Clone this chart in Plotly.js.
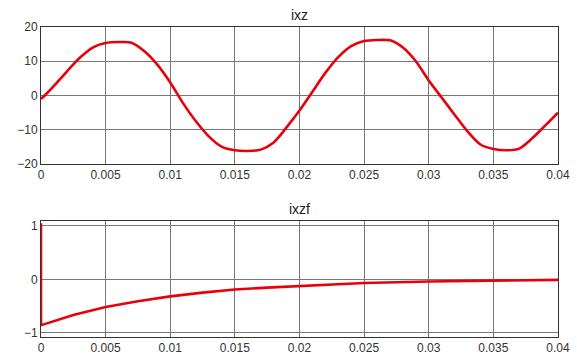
<!DOCTYPE html>
<html>
<head>
<meta charset="utf-8">
<script src="https://cdn.plot.ly/plotly-3.0.1.min.js"></script>
<style>html,body{margin:0;padding:0;background:#fff;}#chart{width:577px;height:361px;}</style>
</head>
<body>
<div id="chart"></div>
<script>
// ixz (top panel)
const tTop = [0, 0.0005, 0.001, 0.002, 0.003, 0.004, 0.005, 0.006, 0.007, 0.008, 0.009, 0.010,
  0.011, 0.012, 0.013, 0.014, 0.015, 0.016, 0.017, 0.018, 0.019, 0.020,
  0.021, 0.022, 0.023, 0.024, 0.025, 0.026, 0.027, 0.028, 0.029, 0.030,
  0.031, 0.032, 0.033, 0.034, 0.035, 0.036, 0.037, 0.038, 0.039, 0.040];
const ixz = [-1, 0.8, 2.8, 7, 11, 14, 15.3, 15.6, 15.4, 12.9, 9, 3.8,
  -2.3, -7.6, -12, -15, -16, -16.2, -15.8, -13.7, -9.3, -4.4,
  1.1, 6.6, 11.2, 14.4, 15.9, 16.2, 16.1, 14, 10, 4.4,
  -0.6, -5.6, -10.5, -14.3, -15.6, -16, -15.5, -12.5, -8.8, -5];

// ixzf (bottom panel)
const tBot = [0, 0, 0.0025, 0.005, 0.0075, 0.01, 0.0125, 0.015, 0.0175, 0.02, 0.025, 0.03, 0.035, 0.04];
const ixzf = [1.05, -0.86, -0.67, -0.52, -0.41, -0.32, -0.25, -0.19, -0.155, -0.125, -0.07, -0.04, -0.025, -0.01];

const xTicks = [0, 0.005, 0.01, 0.015, 0.02, 0.025, 0.03, 0.035, 0.04];
const xTickText = ["0", "0.005", "0.01", "0.015", "0.02", "0.025", "0.03", "0.035", "0.04"];
const yTopTicks = [-20, -10, 0, 10, 20];
const yBotTicks = [-1, 0, 1];
const titles = ["ixz", "ixzf"];

const lineStyle = {color: '#e8000b', width: 2.6};
const traces = [
  {x: tTop, y: ixz, type: 'scatter', mode: 'lines', line: Object.assign({shape: 'spline', smoothing: 0.8}, lineStyle), xaxis: 'x', yaxis: 'y'},
  {x: tBot, y: ixzf, type: 'scatter', mode: 'lines', line: Object.assign({shape: 'linear'}, lineStyle), xaxis: 'x2', yaxis: 'y2'}
];

const axBase = {
  showline: true, mirror: true, linecolor: '#333', linewidth: 1,
  showgrid: true, gridcolor: '#777', gridwidth: 1,
  zeroline: false, ticks: '', tickfont: {family: 'Liberation Sans, Arial, sans-serif', size: 12, color: '#333'}
};

const layout = {
  width: 577, height: 361,
  margin: {l: 41, r: 19, t: 27, b: 24},
  paper_bgcolor: '#fff', plot_bgcolor: '#fff',
  showlegend: false,
  font: {family: 'Liberation Sans, Arial, sans-serif', color: '#333'},
  xaxis: Object.assign({}, axBase, {domain: [0, 1], range: [0, 0.04], tickvals: xTicks, ticktext: xTickText, anchor: 'y'}),
  yaxis: Object.assign({}, axBase, {domain: [0.558, 1], range: [-20, 20], tickvals: yTopTicks, anchor: 'x'}),
  xaxis2: Object.assign({}, axBase, {domain: [0, 1], range: [0, 0.04], tickvals: xTicks, ticktext: xTickText, anchor: 'y2'}),
  yaxis2: Object.assign({}, axBase, {domain: [0, 0.374], range: [-1.08, 1.09], tickvals: yBotTicks, anchor: 'x2'}),
  annotations: [
    {text: titles[0], xref: 'paper', yref: 'paper', x: 0.5, y: 1.0, yshift: 2, xanchor: 'center', yanchor: 'bottom', showarrow: false, font: {size: 14, color: '#222'}},
    {text: titles[1], xref: 'paper', yref: 'paper', x: 0.5, y: 0.374, yshift: 2, xanchor: 'center', yanchor: 'bottom', showarrow: false, font: {size: 14, color: '#222'}}
  ]
};

Plotly.newPlot('chart', traces, layout, {displayModeBar: false, staticPlot: true});
</script>
</body>
</html>
